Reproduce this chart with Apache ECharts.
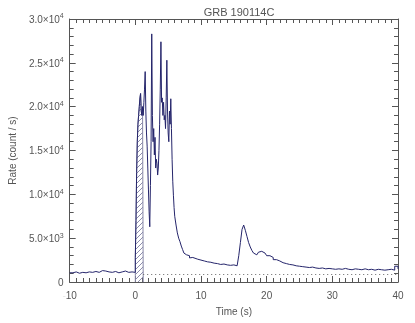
<!DOCTYPE html>
<html><head><meta charset="utf-8">
<script src="https://cdn.jsdelivr.net/npm/echarts@6/dist/echarts.min.js"></script>
<style>html,body{margin:0;padding:0;background:#fff}#c{width:415px;height:323px}</style>
</head><body><div id="c"></div>
<script>
// ---- data ----
var times = [
 -10,-9.5,-9,-8.5,-8,-7.5,-7,-6.5,-6,-5.5,-5,-4.5,-4,-3.5,-3,-2.5,-2,-1.5,-1,-0.5,
 0,0.1,0.2,0.3,0.4,0.5,0.6,0.7,0.8,0.9,1.0,1.1,1.2,1.3,1.4,1.5,1.6,1.7,1.8,1.9,
 2.0,2.1,2.2,2.3,2.4,2.5,2.6,2.7,2.8,2.9,3.0,3.1,3.2,3.3,3.4,3.5,3.6,3.7,3.8,3.9,
 4.0,4.1,4.2,4.3,4.4,4.5,4.6,4.7,4.8,4.9,5.0,5.1,5.2,5.3,5.4,5.5,5.6,5.7,5.8,5.9,
 6.0,6.2,6.4,6.6,6.8,7.0,7.2,7.4,7.6,7.8,8.0,8.25,8.5,8.75,9.0,9.5,10,10.5,11,11.5,
 12,12.5,13,13.5,14,14.5,15,15.5,15.75,16,16.25,16.5,16.75,17,17.25,17.5,17.75,18,18.25,18.5,
 18.75,19,19.25,19.5,19.75,20,20.5,21,21.5,22,22.5,23,23.5,24,24.5,25,25.5,26,26.5,27,
 27.5,28,28.5,29,29.5,30,30.5,31,31.5,32,32.5,33,33.5,34,34.5,35,35.5,36,36.5,37,
 37.5,38,38.5,39,39.5,40
];
var rates = [
 1050,1150,1000,1100,1050,1150,1100,1200,1100,1300,1250,1150,1100,1200,1050,1150,1250,1100,1150,1100,
 2800,7000,12500,16000,18000,19000,20000,21000,21500,19500,19000,20000,19000,20500,22000,24000,19500,17000,15500,13000,
 10500,8000,6300,11000,16000,28300,19000,16000,17500,14500,16500,13000,14000,13500,12200,13000,15000,18000,22000,27400,
 20500,21000,19000,20500,18500,19000,17500,21000,25300,19500,17000,16000,19500,18000,20900,17500,14000,11500,9900,8500,
 7500,6500,5600,5000,4600,4100,3700,3300,3100,2900,3000,2750,2800,2650,2600,2500,2400,2300,2250,2150,
 2100,2000,2050,1950,1900,1950,1850,2000,3000,4500,6000,6500,5900,5200,4500,4000,3600,3300,3100,3200,
 3400,3500,3400,3300,3200,3000,2800,2550,2400,2200,2100,2000,1950,1850,1800,1750,1700,1650,1700,1600,
 1550,1600,1500,1550,1500,1450,1500,1450,1550,1450,1400,1500,1450,1400,1500,1400,1450,1350,1450,1400,
 1350,1400,1450,1350,1800,1500
];
var hatchStart = 0, hatchEnd = 1.2;
var backgroundLevel = 900;
var titleText = 'GRB 190114C';
var xName = 'Time (s)';
var yName = 'Rate (count / s)';
var xTickValues = [-10, 0, 10, 20, 30, 40];
var xTickLabels = ['-10', '0', '10', '20', '30', '40'];
var yTickValues = [0, 5000, 10000, 15000, 20000, 25000, 30000];
var yTickMant = ['0', '5.0', '1.0', '1.5', '2.0', '2.5', '3.0'];
var yTickExp = ['', '3', '4', '4', '4', '4', '4'];

// ---- build ----
var curve = times.map(function (t, i) { return [t, rates[i]]; });
var hatch = [[hatchStart, 0]];
var last = 0;
times.forEach(function (t, i) { if (t >= hatchStart && t < hatchEnd - 1e-9) { hatch.push([t, rates[i]]); last = rates[i]; } });
hatch.push([hatchEnd, last]); hatch.push([hatchEnd, 0]);

var pc = document.createElement('canvas'); pc.width = 5; pc.height = 5;
var g = pc.getContext('2d');
g.strokeStyle = '#8c8cac'; g.lineWidth = 1;
g.beginPath(); g.moveTo(0, 5); g.lineTo(5, 0); g.moveTo(-1, 1); g.lineTo(1, -1); g.moveTo(4, 6); g.lineTo(6, 4); g.stroke();

var axisCol = '#555';
var font = 'Liberation Sans';
function xAxisCfg(pos, show) {
  return {
    type: 'value', position: pos, min: -10, max: 40, interval: 10,
    axisLine: { show: true, onZero: false, lineStyle: { color: axisCol, width: 1 } },
    axisTick: { show: true, inside: true, length: 6, lineStyle: { color: axisCol } },
    minorTick: { show: true, splitNumber: 10, length: 4, lineStyle: { color: axisCol } },
    splitLine: { show: false },
    axisLabel: show ? {
      show: true, margin: 9, color: '#555', fontFamily: font, fontSize: 10,
      formatter: function (v) { var k = xTickValues.indexOf(v); var s = k >= 0 ? xTickLabels[k] : ''; return s.charAt(0) === '-' ? '{m|-}' + s.slice(1) : s; },
      rich: { m: { color: '#e8e8e8', fontFamily: font, fontSize: 10 } }
    } : { show: false },
    name: show ? xName : '', nameLocation: 'middle', nameGap: 25,
    nameTextStyle: { color: '#555', fontFamily: font, fontSize: 10 }
  };
}
function yAxisCfg(pos, show) {
  return {
    type: 'value', position: pos, min: 0, max: 30000, interval: 5000,
    axisLine: { show: true, onZero: false, lineStyle: { color: axisCol, width: 1 } },
    axisTick: { show: true, inside: true, length: 6, lineStyle: { color: axisCol } },
    minorTick: { show: true, splitNumber: 5, length: 4, lineStyle: { color: axisCol } },
    splitLine: { show: false },
    axisLabel: show ? {
      show: true, margin: 6, color: '#555', fontFamily: font, fontSize: 10,
      formatter: function (v) { var k = yTickValues.indexOf(v); if (k < 0) return ''; if (!yTickExp[k]) return '{a|' + yTickMant[k] + '}'; return '{a|' + yTickMant[k] + '×10}{s|' + yTickExp[k] + '}'; },
      rich: { a: { color: '#555', fontFamily: font, fontSize: 10, lineHeight: 12, verticalAlign: 'bottom' },
              s: { color: '#555', fontFamily: font, fontSize: 7, lineHeight: 12, verticalAlign: 'top', padding: [0, 0, 5, 0] } }
    } : { show: false },
    name: show ? yName : '', nameLocation: 'middle', nameGap: 50, nameRotate: 90,
    nameTextStyle: { color: '#555', fontFamily: font, fontSize: 10 }
  };
}

var chart = echarts.init(document.getElementById('c'), null, { renderer: 'canvas' });
chart.setOption({
  animation: false,
  backgroundColor: '#fff',
  title: { text: titleText, left: 234, top: 2, textAlign: 'center',
    textStyle: { color: '#555', fontFamily: font, fontSize: 11, fontWeight: 'normal' } },
  grid: { left: 69, right: 17, top: 19, bottom: 41, containLabel: false },
  xAxis: [xAxisCfg('bottom', true), xAxisCfg('top', false)],
  yAxis: [yAxisCfg('left', true), yAxisCfg('right', false)],
  series: [
    { type: 'line', data: hatch, step: 'end', symbol: 'none', z: 1,
      lineStyle: { color: '#8888a8', width: 1 },
      areaStyle: { color: { image: pc, repeat: 'repeat' }, opacity: 1 } },
    { type: 'line', data: curve, step: 'end', symbol: 'none', z: 3,
      lineStyle: { color: '#25256b', width: 1 },
      markLine: { silent: true, symbol: 'none', label: { show: false },
        lineStyle: { color: '#666', type: [1, 3], width: 1 },
        data: [[{ coord: [hatchEnd, backgroundLevel] }, { coord: [40, backgroundLevel] }]] } }
  ]
});
</script></body></html>
